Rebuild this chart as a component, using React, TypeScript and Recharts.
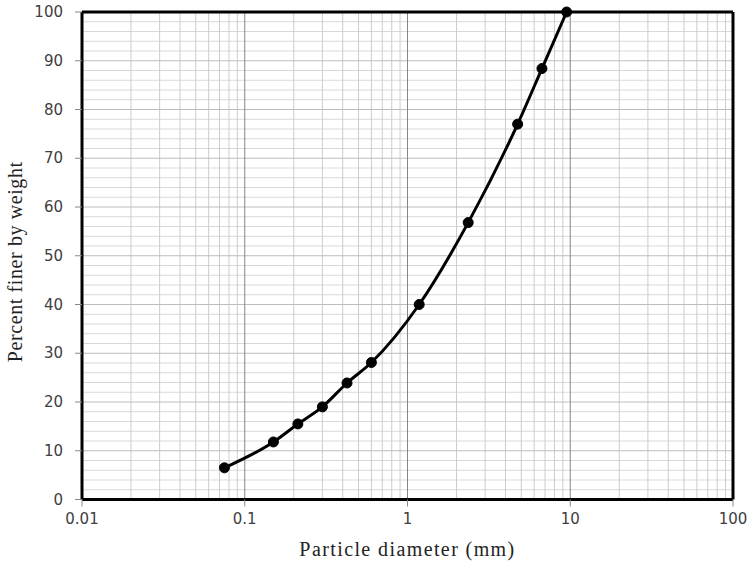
import React from 'react';
import {
  LineChart,
  Line,
  XAxis,
  YAxis,
  ReferenceLine,
} from 'recharts';

// sieve sizes (mm) and percent passing
const SIZES = [0.075, 0.15, 0.212, 0.3, 0.425, 0.6, 1.18, 2.36, 4.75, 6.7, 9.5];
const PASSING = [6.5, 11.8, 15.5, 19, 23.9, 28.1, 40, 56.8, 77, 88.4, 100];

const X_TICKS = [0.01, 0.1, 1, 10, 100];
const Y_TICKS = [0, 10, 20, 30, 40, 50, 60, 70, 80, 90, 100];
const DECADES = [0.01, 0.1, 1, 10];
const MULTS = [2, 3, 4, 5, 6, 7, 8, 9];
const Y_MINOR = [2, 4, 6, 8, 12, 14, 16, 18, 22, 24, 26, 28, 32, 34, 36, 38, 42, 44, 46, 48, 52, 54, 56, 58, 62, 64, 66, 68, 72, 74, 76, 78, 82, 84, 86, 88, 92, 94, 96, 98];
const Y_MAJOR = [10, 20, 30, 40, 50, 60, 70, 80, 90];
const X_MAJOR = [0.1, 1, 10];

const data = SIZES.map((d, i) => ({ size: d, pass: PASSING[i] }));
const xMinor = DECADES.flatMap(d => MULTS.map(m => +(d * m).toPrecision(3)));

const tickStyle = { fontFamily: "'DejaVu Sans', Verdana, sans-serif", fontSize: 15, fill: '#404040' };
const titleFont = { fontFamily: "'Liberation Serif', 'Times New Roman', serif", fontSize: 20, fill: '#222' };

const XTick = (props: any) => (
  <text x={props.x} y={props.y} dy={11} textAnchor="middle" style={tickStyle}>
    {String(props.payload.value)}
  </text>
);

const YTick = (props: any) => (
  <text x={props.x} y={props.y} dy={5} textAnchor="end" style={tickStyle}>
    {String(props.payload.value)}
  </text>
);

const YTitle = (props: any) => {
  const vb = props.viewBox || {};
  const cx = 15;
  const cy = (vb.y ?? 12) + (vb.height ?? 488) / 2 + 6;
  return (
    <text
      x={cx}
      y={cy}
      transform={`rotate(-90 ${cx} ${cy})`}
      textAnchor="middle"
      dominantBaseline="central"
      style={{ ...titleFont, letterSpacing: 0.6 }}
    >
      Percent finer by weight
    </text>
  );
};

const XTitle = (props: any) => {
  const vb = props.viewBox || {};
  const cx = (vb.x ?? 82) + (vb.width ?? 651) / 2;
  return (
    <text x={cx} y={556} textAnchor="middle" style={{ ...titleFont, letterSpacing: 1.4 }}>
      Particle diameter (mm)
    </text>
  );
};

export default function App() {
  return (
    <div style={{ position: 'absolute', left: 0, top: 0, width: 748, height: 562, background: '#fff' }}>
      <LineChart width={748} height={562} data={data} margin={{ top: 12, right: 15, bottom: 0, left: 0 }}>
        <XAxis
          dataKey="size"
          type="number"
          scale="log"
          domain={[0.01, 100]}
          ticks={X_TICKS}
          allowDataOverflow
          axisLine={false}
          tickLine={{ stroke: '#888' }}
          tickSize={7}
          tickMargin={6}
          tick={<XTick />}
          height={62.5}
          label={<XTitle />}
        />
        <YAxis
          type="number"
          domain={[0, 100]}
          ticks={Y_TICKS}
          axisLine={false}
          tickLine={{ stroke: '#888' }}
          tickSize={7}
          tickMargin={12}
          tick={<YTick />}
          width={82}
          label={<YTitle />}
        />
        {Y_MINOR.map(v => (
          <ReferenceLine key={`ym${v}`} y={v} stroke="#d9d9d9" strokeWidth={1} />
        ))}
        {xMinor.map(v => (
          <ReferenceLine key={`xm${v}`} x={v} stroke="#cccccc" strokeWidth={1} />
        ))}
        {Y_MAJOR.map(v => (
          <ReferenceLine key={`yM${v}`} y={v} stroke="#bdbdbd" strokeWidth={1} />
        ))}
        {X_MAJOR.map(v => (
          <ReferenceLine key={`xM${v}`} x={v} stroke="#868686" strokeWidth={1} />
        ))}
        <ReferenceLine x={0.01} stroke="#000" strokeWidth={3} />
        <ReferenceLine x={100} stroke="#000" strokeWidth={3} />
        <ReferenceLine y={0} stroke="#000" strokeWidth={3} />
        <ReferenceLine y={100} stroke="#000" strokeWidth={3} />
        <Line
          dataKey="pass"
          type="monotone"
          stroke="#000"
          strokeWidth={3}
          dot={{ r: 5, fill: '#000', stroke: '#000', strokeWidth: 1 }}
          isAnimationActive={false}
        />
      </LineChart>
    </div>
  );
}
